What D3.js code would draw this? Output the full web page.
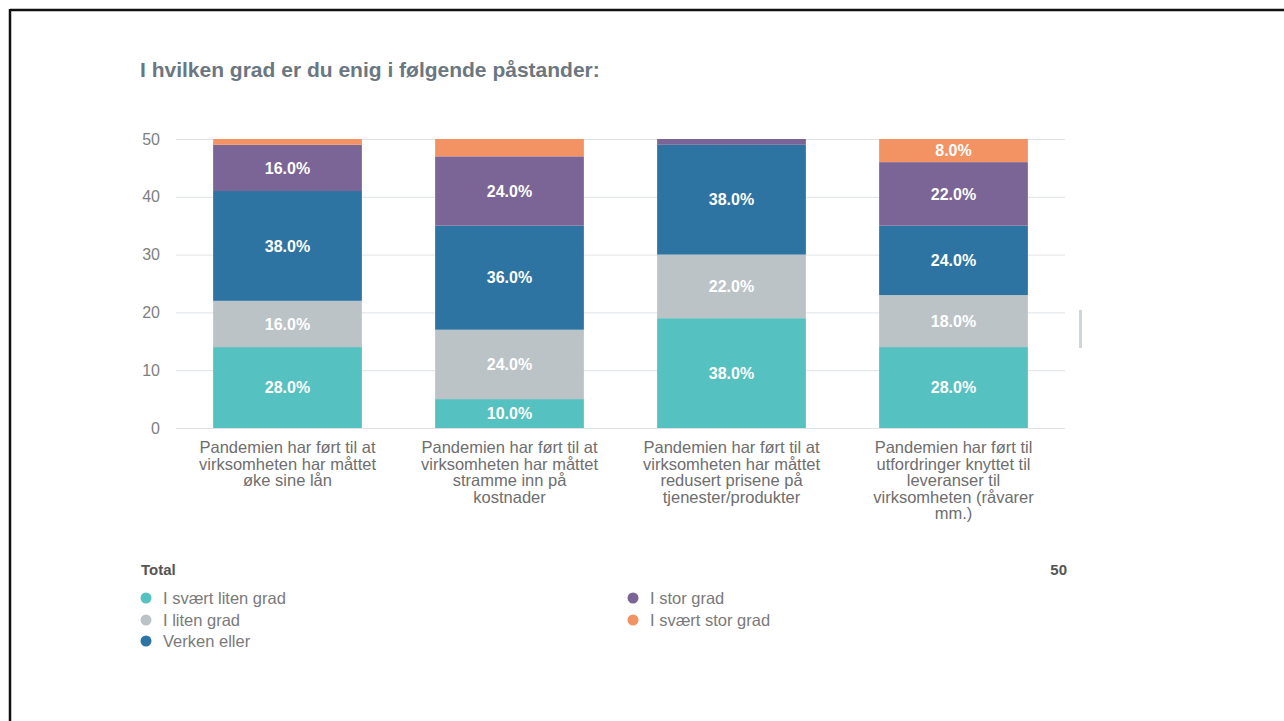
<!DOCTYPE html>
<html><head><meta charset="utf-8">
<script src="https://cdn.jsdelivr.net/npm/d3@7"></script>
<style>
body{margin:0;background:#fff;}
svg{display:block;font-family:"Liberation Sans",Arial,sans-serif;}
</style></head>
<body><svg id="c" width="1284" height="721"></svg>
<script>
const title = "I hvilken grad er du enig i følgende påstander:";
const categories = [
  ["Pandemien har ført til at","virksomheten har måttet","øke sine lån"],
  ["Pandemien har ført til at","virksomheten har måttet","stramme inn på","kostnader"],
  ["Pandemien har ført til at","virksomheten har måttet","redusert prisene på","tjenester/produkter"],
  ["Pandemien har ført til","utfordringer knyttet til","leveranser til","virksomheten (råvarer","mm.)"]
];
const seriesNames = ["I svært liten grad","I liten grad","Verken eller","I stor grad","I svært stor grad"];
const seriesColors = ["#55c1c0","#bcc3c7","#2e74a3","#7b6596","#f39262"];
const svaertLiten = [14, 5, 19, 14];
const liten       = [8, 12, 11, 9];
const verken      = [19, 18, 19, 12];
const stor        = [8, 12, 1, 11];
const svaertStor  = [1, 3, 0, 4];
const total = 50;
const yTicks = [0,10,20,30,40,50];

const svg = d3.select("#c");
// frame
svg.append("line").attr("x1",10).attr("x2",1284).attr("y1",10).attr("y2",10).attr("stroke","#111").attr("stroke-width",2.5);
svg.append("line").attr("x1",10).attr("x2",10).attr("y1",9).attr("y2",721).attr("stroke","#111").attr("stroke-width",2.5);
// small scrollbar artifact
svg.append("rect").attr("x",1079).attr("y",310).attr("width",3).attr("height",38).attr("fill","#cfd6db");

svg.append("text").attr("x",140).attr("y",77).text(title)
  .attr("font-size",21).attr("font-weight","bold").attr("fill","#6b7780");

const seriesVals = [svaertLiten, liten, verken, stor, svaertStor];
const rows = categories.map((c,i)=>{
  const o={idx:i};
  seriesNames.forEach((s,j)=>o[s]=seriesVals[j][i]);
  return o;
});
const stack = d3.stack().keys(seriesNames)(rows);

const x = d3.scaleBand().domain(d3.range(categories.length)).range([176.5,1064.5]).paddingInner(0.33).paddingOuter(0.165);
const y = d3.scaleLinear().domain([0,50]).range([428,139]);

const g = svg.append("g");
const yAxis = d3.axisLeft(y).tickValues(yTicks).tickSize(-(1065-176)).tickPadding(16);
const ya = g.append("g").attr("transform","translate(176,0)").call(yAxis);
ya.select(".domain").remove();
ya.selectAll(".tick line").attr("stroke","#dfe3e6").attr("stroke-width",1);
ya.selectAll(".tick text").attr("font-size",16).attr("fill","#7f7f7f").attr("font-family","Liberation Sans, Arial, sans-serif");

stack.forEach((s,j)=>{
  const sg = g.append("g");
  sg.selectAll("rect").data(s).enter().append("rect")
    .attr("x",d=>x(d.data.idx)).attr("width",x.bandwidth())
    .attr("y",d=>y(d[1])).attr("height",d=>y(d[0])-y(d[1]))
    .attr("fill",seriesColors[j]);
  sg.selectAll("text").data(s.filter(d=>d[1]-d[0]>3)).enter().append("text")
    .attr("x",d=>x(d.data.idx)+x.bandwidth()/2)
    .attr("y",d=>(y(d[0])+y(d[1]))/2)
    .attr("dy","0.36em").attr("text-anchor","middle")
    .attr("font-size",16).attr("font-weight","bold").attr("fill","#fff")
    .text(d=>((d[1]-d[0])/total*100).toFixed(1)+"%");
});

// category labels
categories.forEach((lines,i)=>{
  const cx = x(i)+x.bandwidth()/2;
  const t = g.append("text").attr("text-anchor","middle").attr("font-size",16.5).attr("fill","#6e6e6e")
    .attr("x",cx).attr("y",453);
  lines.forEach((l,k)=>t.append("tspan").attr("x",cx).attr("dy",k?16.5:0).text(l));
});

// legend
svg.append("text").attr("x",141).attr("y",575).text("Total").attr("font-size",15).attr("font-weight","bold").attr("fill","#555");
svg.append("text").attr("x",1067).attr("y",575).attr("text-anchor","end").text(total).attr("font-size",15).attr("font-weight","bold").attr("fill","#555");
const legPos = [[146,598],[146,620],[146,641],[633,598],[633,620]];
seriesNames.forEach((s,j)=>{
  const [cx,cy]=legPos[j];
  svg.append("circle").attr("cx",cx).attr("cy",cy).attr("r",5.5).attr("fill",seriesColors[j]);
  svg.append("text").attr("x",cx+17).attr("y",cy).attr("dy","0.35em").text(s).attr("font-size",16.5).attr("fill","#7a7a7a");
});
</script></body></html>
